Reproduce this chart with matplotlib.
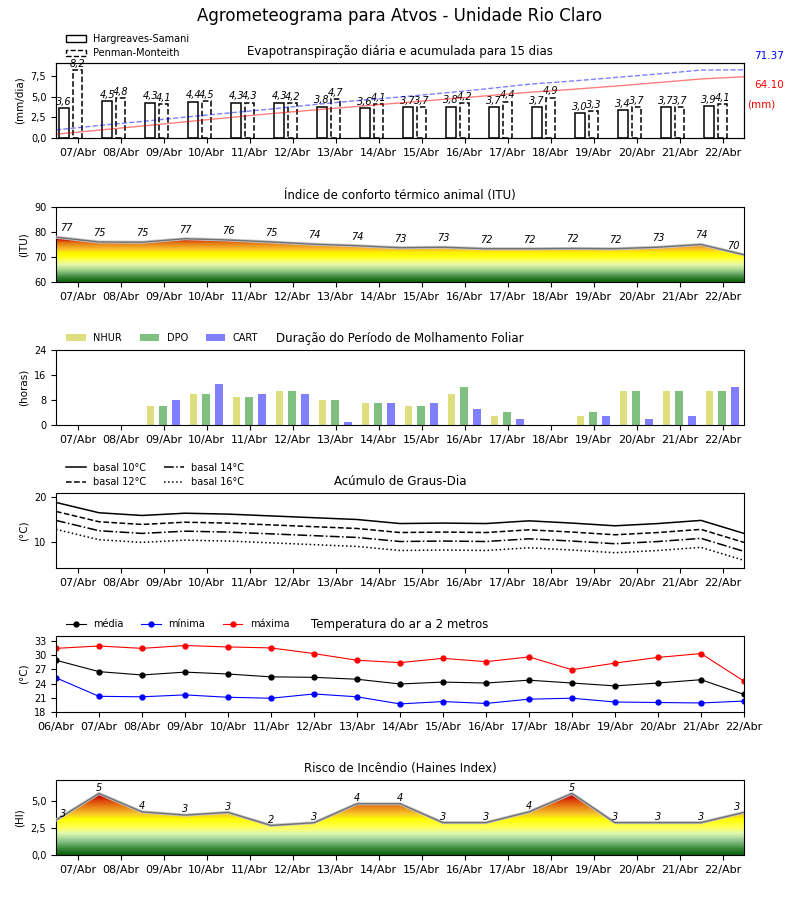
import numpy as np
import matplotlib
matplotlib.use('Agg')
import matplotlib.pyplot as plt
from matplotlib.colors import LinearSegmentedColormap
from matplotlib.patches import Polygon, Patch
import matplotlib.patheffects as pe

# dias do prognostico
dias = ['07/Abr', '08/Abr', '09/Abr', '10/Abr', '11/Abr', '12/Abr', '13/Abr', '14/Abr',
        '15/Abr', '16/Abr', '17/Abr', '18/Abr', '19/Abr', '20/Abr', '21/Abr', '22/Abr']
dias_temp = ['06/Abr'] + dias

# evapotranspiracao diaria (mm/dia)
et_hs = [3.6, 4.5, 4.3, 4.4, 4.3, 4.3, 3.8, 3.6, 3.7, 3.8, 3.7, 3.7, 3.0, 3.4, 3.7, 3.9]
et_pm = [8.2, 4.8, 4.1, 4.5, 4.3, 4.2, 4.7, 4.1, 3.7, 4.2, 4.4, 4.9, 3.3, 3.7, 3.7, 4.1]
# evapotranspiracao acumulada (mm), nas viradas de dia
acum_hs = [3.9, 8.2, 12.5, 16.9, 21.2, 25.5, 29.3, 33.0, 36.7, 40.4, 44.1, 47.8, 50.9, 54.3, 58.0, 61.8, 64.1]
acum_pm = [8.4, 13.1, 17.3, 21.8, 26.1, 30.3, 35.0, 39.1, 42.9, 47.0, 51.4, 56.3, 59.6, 63.3, 67.0, 71.1, 71.37]
total_hs = 64.10
total_pm = 71.37

# ITU
itu = [77.9, 76.0, 75.9, 77.3, 76.8, 76.0, 75.1, 74.5, 73.7, 73.9, 73.3, 73.3, 73.4, 73.3, 73.9, 75.0, 70.9]
itu_rot = [77, 75, 75, 77, 76, 75, 74, 74, 73, 73, 72, 72, 72, 72, 73, 74, 70]

# molhamento foliar (horas)
nhur = [0, 0, 6, 10, 9, 11, 8, 7, 6, 10, 3, 0, 3, 11, 11, 11]
dpo = [0, 0, 6, 10, 9, 11, 8, 7, 6, 12, 4, 0, 4, 11, 11, 11]
cart = [0, 0, 8, 13, 10, 10, 1, 7, 7, 5, 2, 0, 3, 2, 3, 12]

# graus-dia
gd10 = [18.8, 16.5, 15.9, 16.4, 16.2, 15.8, 15.4, 15.0, 14.1, 14.2, 14.1, 14.7, 14.2, 13.6, 14.1, 14.8, 11.9]
gd12 = [16.8, 14.5, 13.9, 14.4, 14.2, 13.8, 13.4, 13.0, 12.1, 12.2, 12.1, 12.7, 12.2, 11.6, 12.1, 12.8, 9.9]
gd14 = [14.8, 12.5, 11.9, 12.4, 12.2, 11.8, 11.4, 11.0, 10.1, 10.2, 10.1, 10.7, 10.2, 9.6, 10.1, 10.8, 7.9]
gd16 = [12.8, 10.5, 9.9, 10.4, 10.2, 9.8, 9.4, 9.0, 8.1, 8.2, 8.1, 8.7, 8.2, 7.6, 8.1, 8.8, 5.9]

# temperatura do ar (C)
t_med = [28.9, 26.5, 25.8, 26.4, 26.0, 25.4, 25.3, 24.9, 23.9, 24.3, 24.1, 24.7, 24.1, 23.5, 24.1, 24.8, 21.7]
t_min = [25.2, 21.3, 21.2, 21.6, 21.1, 20.9, 21.8, 21.2, 19.7, 20.2, 19.8, 20.7, 20.9, 20.1, 20.0, 19.9, 20.3]
t_max = [31.4, 31.9, 31.4, 32.0, 31.7, 31.5, 30.3, 28.9, 28.4, 29.3, 28.6, 29.6, 26.9, 28.3, 29.5, 30.3, 24.5]

# indice de Haines
haines = [3.24, 5.7, 4.0, 3.7, 3.95, 2.74, 2.99, 4.75, 4.75, 3.0, 3.0, 4.0, 5.7, 3.0, 3.0, 3.0, 3.95]
haines_rot = [3, 5, 4, 3, 3, 2, 3, 4, 4, 3, 3, 4, 5, 3, 3, 3, 3]

x = np.arange(len(dias))
xb = np.arange(len(dias) + 1) - 0.5
xt = np.arange(len(dias_temp))


def virgula(v):
    return f'{v:.1f}'.replace('.', ',')


def gradiente(ax, xs, ys, ymin, ymax, cmap):
    grad = np.linspace(ymin, ymax, 256).reshape(-1, 1)
    im = ax.imshow(grad, extent=[xs[0], xs[-1], ymin, ymax], origin='lower', aspect='auto',
                   cmap=cmap, vmin=ymin, vmax=ymax, zorder=1)
    verts = [(xs[0], ymin)] + list(zip(xs, ys)) + [(xs[-1], ymin)]
    poly = Polygon(verts, closed=True, facecolor='none', edgecolor='none')
    ax.add_patch(poly)
    im.set_clip_path(poly)
    ax.plot(xs, ys, color='#707070', lw=1, zorder=3,
            path_effects=[pe.Stroke(linewidth=2.2, foreground='#c8c8c8'), pe.Normal()])


def rotulos(ax, xs, ys, textos, dy):
    n = len(xs)
    for i in range(n):
        if i == 0:
            ha, dx = 'left', 3
        elif i == n - 1:
            ha, dx = 'right', -3
        else:
            ha, dx = 'center', 0
        ax.annotate(str(textos[i]), (xs[i], ys[i]), xytext=(dx, dy), textcoords='offset points',
                    ha=ha, va='bottom', fontsize=7, style='italic', zorder=4)


def mapa(stops, vmin, vmax):
    return LinearSegmentedColormap.from_list(
        'm', [((v - vmin) / (vmax - vmin), c) for v, c in stops])


fig = plt.figure(figsize=(8, 9), dpi=100)
fig.suptitle('Agrometeograma para Atvos - Unidade Rio Claro', fontsize=12, y=0.992)

L, W, H = 0.07, 0.86, 0.0833
tit = 8.5
tick_fs = 8
ytick_fs = 7
lab_fs = 7.5
leg = dict(loc='lower left', frameon=False, fontsize=7, handlelength=2.0,
           borderaxespad=0.3, columnspacing=1.8)

# 1 - evapotranspiracao
ax1 = fig.add_axes([L, 0.8467, W, H])
ax1.bar(x - 0.31, et_hs, width=0.22, facecolor='white', edgecolor='black', lw=1.1)
ax1.bar(x, et_pm, width=0.22, facecolor='white', edgecolor='black', lw=1.1, linestyle='--')
for i in range(len(x)):
    ax1.text(x[i] - 0.31, et_hs[i] + 0.15, virgula(et_hs[i]), ha='center', va='bottom',
             fontsize=7, style='italic')
    ax1.text(x[i], et_pm[i] + 0.15, virgula(et_pm[i]), ha='center', va='bottom',
             fontsize=7, style='italic')
ax1.set_xlim(-0.5, 15.5)
ax1.set_ylim(0, 9.1)
ax1.set_yticks([0, 2.5, 5, 7.5])
ax1.set_yticklabels(['0,0', '2,5', '5,0', '7,5'])
ax1.set_ylabel('(mm/dia)', fontsize=lab_fs)
ax1.set_title('Evapotranspiração diária e acumulada para 15 dias', fontsize=tit)
ax1b = ax1.twinx()
ax1b.plot(xb, acum_hs, color='red', alpha=0.5, lw=1)
ax1b.plot(xb, acum_pm, color='blue', alpha=0.5, lw=1, linestyle='--')
ax1b.set_ylim(0, 78.5)
ax1b.set_yticks([])
ax1b.set_xlim(-0.5, 15.5)
ax1.text(1.036, 1.093, f'{total_pm:.2f}', color='blue', fontsize=7.5, ha='center', va='center',
         transform=ax1.transAxes)
ax1.text(1.036, 0.707, f'{total_hs:.2f}', color='red', fontsize=7.5, ha='center', va='center',
         transform=ax1.transAxes)
ax1.text(1.025, 0.44, '(mm)', color='red', fontsize=7.5, ha='center', va='center',
         transform=ax1.transAxes)
ax1.legend(handles=[Patch(facecolor='white', edgecolor='black', label='Hargreaves-Samani'),
                    Patch(facecolor='white', edgecolor='black', linestyle='--', label='Penman-Monteith')],
           bbox_to_anchor=(0.005, 0.97), labelspacing=0.5, **leg)

# 2 - ITU
ax2 = fig.add_axes([L, 0.6867, W, H])
cm_itu = mapa([(60, '#0b5e0b'), (61.5, '#2e7d2e'), (63, '#5fa35f'), (65, '#a9d98f'),
               (67, '#e6f9a8'), (69, '#ffff50'), (70.5, '#ffff00'), (72, '#ffee00'),
               (73, '#f9c22e'), (74.5, '#ee9a20'), (76, '#e06a10'), (77, '#d01000'),
               (90, '#c80000')], 60, 90)
gradiente(ax2, xb, itu, 60, 90, cm_itu)
rotulos(ax2, xb, itu, itu_rot, 3)
ax2.set_xlim(-0.5, 15.5)
ax2.set_ylim(60, 90)
ax2.set_yticks([60, 70, 80, 90])
ax2.set_ylabel('(ITU)', fontsize=lab_fs)
ax2.set_title('Índice de conforto térmico animal (ITU)', fontsize=tit)

# 3 - molhamento foliar
ax3 = fig.add_axes([L, 0.5278, W, H])
ax3.bar(x - 0.31, nhur, width=0.17, color='y', alpha=0.5, label='NHUR')
ax3.bar(x - 0.01, dpo, width=0.17, color='g', alpha=0.5, label='DPO')
ax3.bar(x + 0.29, cart, width=0.17, color='b', alpha=0.5, label='CART')
ax3.set_xlim(-0.5, 15.5)
ax3.set_ylim(0, 24)
ax3.set_yticks([0, 8, 16, 24])
ax3.set_ylabel('(horas)', fontsize=lab_fs)
ax3.set_title('Duração do Período de Molhamento Foliar', fontsize=tit)
ax3.legend(bbox_to_anchor=(0.005, 1.0), ncol=3, **leg)

# 4 - graus-dia
ax4 = fig.add_axes([L, 0.3689, W, H])
ax4.plot(xb, gd10, color='black', lw=1.1, linestyle='-', label='basal 10°C')
ax4.plot(xb, gd12, color='black', lw=1.1, linestyle='--', label='basal 12°C')
ax4.plot(xb, gd14, color='black', lw=1.1, linestyle='-.', label='basal 14°C')
ax4.plot(xb, gd16, color='black', lw=1.1, linestyle=':', label='basal 16°C')
ax4.set_xlim(-0.5, 15.5)
ax4.set_ylim(4.2, 20.9)
ax4.set_yticks([10, 20])
ax4.set_ylabel('(°C)', fontsize=lab_fs)
ax4.set_title('Acúmulo de Graus-Dia', fontsize=tit)
ax4.legend(bbox_to_anchor=(0.005, 0.99), ncol=2, labelspacing=0.45, **leg)

# 5 - temperatura
ax5 = fig.add_axes([L, 0.2089, W, 0.0844])
ax5.plot(xt, t_med, color='black', lw=0.8, marker='o', ms=3.5, label='média')
ax5.plot(xt, t_min, color='blue', lw=0.8, marker='o', ms=3.5, label='mínima')
ax5.plot(xt, t_max, color='red', lw=0.8, marker='o', ms=3.5, label='máxima')
ax5.set_xlim(0, 16)
ax5.set_ylim(18, 34)
ax5.set_yticks([18, 21, 24, 27, 30, 33])
ax5.set_xticks(xt)
ax5.set_xticklabels(dias_temp, fontsize=tick_fs)
ax5.set_ylabel('(°C)', fontsize=lab_fs)
ax5.set_title('Temperatura do ar a 2 metros', fontsize=tit)
ax5.legend(bbox_to_anchor=(0.005, 1.0), ncol=3, **leg)

# 6 - Haines
ax6 = fig.add_axes([L, 0.05, W, H])
cm_hai = mapa([(0, '#0b5e0b'), (0.6, '#3a8a3a'), (1.3, '#8cc78c'), (2.0, '#e0f7b0'),
               (2.5, '#ffff60'), (3.3, '#ffff00'), (3.8, '#f8c828'), (4.4, '#eb8a1a'),
               (5.0, '#dd4a0a'), (5.5, '#cc0000'), (6.95, '#cc0000')], 0, 6.95)
gradiente(ax6, xb, haines, 0, 6.95, cm_hai)
rotulos(ax6, xb, haines, haines_rot, 0.5)
ax6.set_xlim(-0.5, 15.5)
ax6.set_ylim(0, 6.95)
ax6.set_yticks([0, 2.5, 5])
ax6.set_yticklabels(['0,0', '2,5', '5,0'])
ax6.set_ylabel('(HI)', fontsize=lab_fs)
ax6.set_title('Risco de Incêndio (Haines Index)', fontsize=tit)

for ax in [ax1, ax2, ax3, ax4, ax6]:
    ax.set_xticks(x)
    ax.set_xticklabels(dias, fontsize=tick_fs)
for ax in [ax1, ax2, ax3, ax4, ax5, ax6]:
    ax.tick_params(axis='y', labelsize=ytick_fs)

fig.savefig('out.png', dpi=100)
